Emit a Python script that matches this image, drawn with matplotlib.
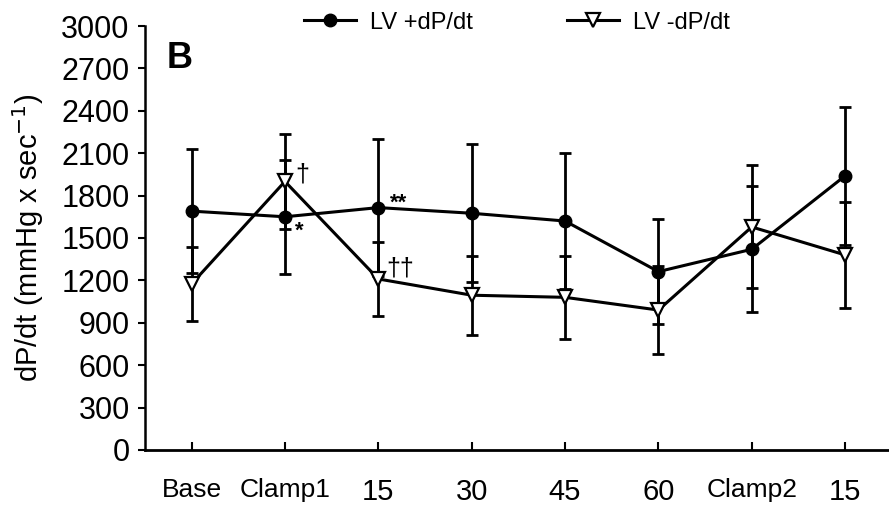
import matplotlib.pyplot as plt

plt.rcParams['font.family'] = ['Liberation Sans', 'DejaVu Sans']

labels = ["Base", "Clamp1", "15", "30", "45", "60", "Clamp2", "15"]
pos_dpdt = [1690, 1650, 1715, 1675, 1620, 1262, 1420, 1940]
pos_err = [440, 405, 485, 490, 480, 371, 445, 490]
neg_dpdt = [1175, 1900, 1210, 1095, 1080, 990, 1578, 1380]
neg_err = [262, 335, 260, 280, 295, 313, 435, 378]

x = list(range(len(labels)))

fig = plt.figure(figsize=(8.89, 5.05), dpi=100)
ax = fig.add_axes([0.163, 0.109, 0.837, 0.8395])

ax.errorbar(x, pos_dpdt, yerr=pos_err, fmt='none', ecolor='black',
            elinewidth=2, capsize=4.5, capthick=2, zorder=1)
ax.errorbar(x, neg_dpdt, yerr=neg_err, fmt='none', ecolor='black',
            elinewidth=2, capsize=4.5, capthick=2, zorder=1)
ax.plot(x, pos_dpdt, color='black', lw=2.2, marker='o', ms=9,
        mfc='black', mec='black', label='LV +dP/dt', zorder=3)
ax.plot(x, neg_dpdt, color='black', lw=2.2, marker='v', ms=10,
        mfc='white', mec='black', mew=1.6, label='LV -dP/dt', zorder=4)

# significance marks
ax.text(1.11, 1950, "\u2020", fontsize=18, ha='left', va='center')
ax.text(1.11, 1545, "*", fontsize=16, ha='left', va='center', fontweight='bold')
ax.text(2.12, 1745, "**", fontsize=16, ha='left', va='center', fontweight='bold')
ax.text(2.09, 1285, "\u2020\u2020", fontsize=18, ha='left', va='center')

ax.text(-0.27, 2770, "B", fontsize=26, fontweight='bold', ha='left', va='center')

ax.set_xlim(-0.5, 7.47)
ax.set_ylim(0, 3000)
ax.set_yticks(range(0, 3001, 300))
ax.set_xticks(x)
ax.set_xticklabels(labels)
for t in ax.get_xticklabels():
    if t.get_text().isdigit():
        t.set_fontsize(21)
    else:
        t.set_fontsize(19)
ax.tick_params(axis='y', labelsize=22, length=5, width=1.5, direction='out', pad=6)
ax.tick_params(axis='x', length=6, width=1.5, direction='in', pad=20)
ax.spines['top'].set_visible(False)
ax.spines['right'].set_visible(False)
ax.spines['left'].set_linewidth(1.8)
ax.spines['bottom'].set_linewidth(2)
ax.set_ylabel("dP/dt (mmHg x sec$^{-1}$)", fontsize=21, labelpad=11)

fig.legend(loc='center left', bbox_to_anchor=(0.318, 0.955), ncol=2, frameon=False,
           fontsize=17, handlelength=2.2, handletextpad=0.6, columnspacing=4.0)

fig.savefig("out.png", dpi=100)
